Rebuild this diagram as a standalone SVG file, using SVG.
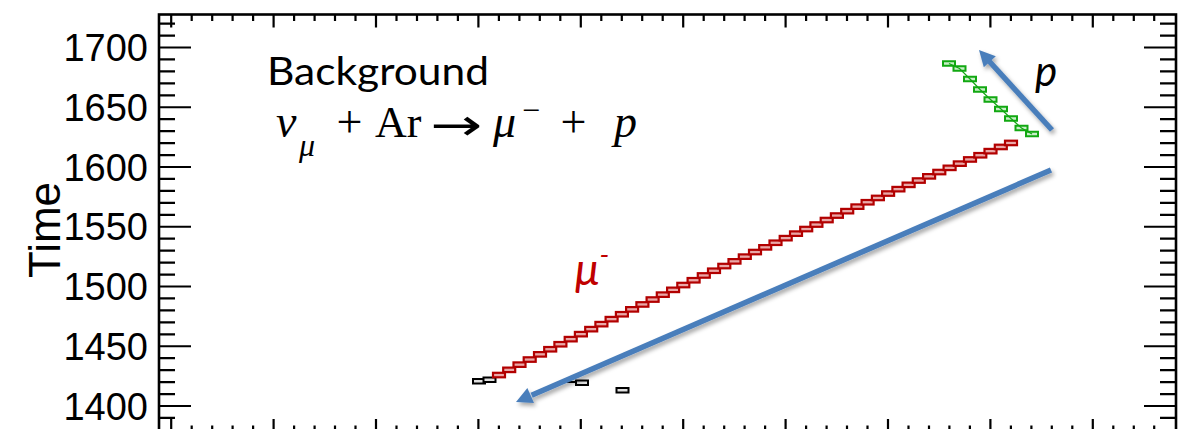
<svg xmlns="http://www.w3.org/2000/svg" xmlns:xlink="http://www.w3.org/1999/xlink" width="1184" height="429" viewBox="0 0 1184 429">
<style>
.axis{fill:none;stroke:#000;stroke-width:2.2}
.frame{fill:none;stroke:#000;stroke-width:2.6}
.tl{font-family:"Liberation Sans",Arial,sans-serif;font-size:38px;fill:#000;text-anchor:end}
.ylab{font-family:"Liberation Sans",Arial,sans-serif;font-size:44px;fill:#000;text-anchor:middle}
.red{fill:#eaa8a8;stroke:#b20000;stroke-width:2.2}
.grn{fill:#c8efc8;stroke:#12a812;stroke-width:2}
.blk{fill:#e0e0e0;stroke:#000;stroke-width:2}
.arr{stroke:#4a7ebb;stroke-width:5.5;fill:none}
.arrh{fill:#4a7ebb}
.cal{font-family:Lato,"Open Sans","DejaVu Sans",sans-serif}
.math{font-family:"Liberation Serif","DejaVu Serif",serif;font-size:46px;fill:#000}
</style>
<defs>
<rect id="hit" x="0" y="0" width="12" height="4.5"/>
<filter id="sh" x="-10%" y="-10%" width="130%" height="130%">
<feDropShadow dx="2" dy="3" stdDeviation="2" flood-color="#000" flood-opacity="0.35"/>
</filter>
<path id="tickTop" d="M171.2 14.5v13M273.6 14.5v13M376 14.5v13M478.4 14.5v13M580.8 14.5v13M683.2 14.5v13M785.6 14.5v13M888 14.5v13M990.4 14.5v13M1092.8 14.5v13M191.7 14.5v6.5M212.2 14.5v6.5M232.6 14.5v6.5M253.1 14.5v6.5M294.1 14.5v6.5M314.6 14.5v6.5M335 14.5v6.5M355.5 14.5v6.5M396.5 14.5v6.5M417 14.5v6.5M437.4 14.5v6.5M457.9 14.5v6.5M498.9 14.5v6.5M519.4 14.5v6.5M539.8 14.5v6.5M560.3 14.5v6.5M601.3 14.5v6.5M621.8 14.5v6.5M642.2 14.5v6.5M662.7 14.5v6.5M703.7 14.5v6.5M724.2 14.5v6.5M744.6 14.5v6.5M765.1 14.5v6.5M806.1 14.5v6.5M826.6 14.5v6.5M847 14.5v6.5M867.5 14.5v6.5M908.5 14.5v6.5M929 14.5v6.5M949.4 14.5v6.5M969.9 14.5v6.5M1010.9 14.5v6.5M1031.4 14.5v6.5M1051.8 14.5v6.5M1072.3 14.5v6.5M1113.3 14.5v6.5M1133.8 14.5v6.5M1154.2 14.5v6.5"/>
<path id="tickLeft" d="M159 47.5h32M159 107.25h32M159 167h32M159 226.75h32M159 286.5h32M159 346.25h32M159 406h32M159 23.6h16M159 35.55h16M159 59.45h16M159 71.4h16M159 83.35h16M159 95.3h16M159 119.2h16M159 131.15h16M159 143.1h16M159 155.05h16M159 178.95h16M159 190.9h16M159 202.85h16M159 214.8h16M159 238.7h16M159 250.65h16M159 262.6h16M159 274.55h16M159 298.45h16M159 310.4h16M159 322.35h16M159 334.3h16M159 358.2h16M159 370.15h16M159 382.1h16M159 394.05h16M159 417.95h16"/>
</defs>

<g id="axes">
<rect class="frame" x="159" y="14.5" width="1017" height="417.5"/>
<use xlink:href="#tickTop" class="axis"/>
<use xlink:href="#tickTop" class="axis" transform="translate(0,446.5) scale(1,-1)"/>
<use xlink:href="#tickLeft" class="axis"/>
<use xlink:href="#tickLeft" class="axis" transform="translate(1335,0) scale(-1,1)"/>
<text class="tl" x="148" y="61.1">1700</text>
<text class="tl" x="148" y="120.85">1650</text>
<text class="tl" x="148" y="180.6">1600</text>
<text class="tl" x="148" y="240.35">1550</text>
<text class="tl" x="148" y="300.1">1500</text>
<text class="tl" x="148" y="359.85">1450</text>
<text class="tl" x="148" y="419.6">1400</text>
<text class="ylab" transform="translate(60,230) rotate(-90)">Time</text>
</g>

<g id="title">
<text class="cal" x="267" y="85" font-size="38" textLength="222" lengthAdjust="spacingAndGlyphs" fill="#000">Background</text>
</g>

<g id="formula">
<text class="math"><tspan x="276" y="137" font-style="italic">ν</tspan><tspan x="299" y="156" font-size="32" font-style="italic">μ</tspan><tspan x="336.5" y="137">+</tspan><tspan x="375" y="137" font-size="44">Ar</tspan><tspan x="430" y="140" font-family="'DejaVu Sans',sans-serif" font-size="44" textLength="52" lengthAdjust="spacingAndGlyphs">→</tspan><tspan x="493" y="137" font-style="italic">μ</tspan><tspan x="522" y="121" font-size="32">−</tspan><tspan x="560.5" y="137">+</tspan><tspan x="614" y="137" font-style="italic">p</tspan></text>
</g>

<g id="black-hits" class="blk">
<path d="M567 382h9" fill="none" stroke="#000" stroke-width="2"/>
<use xlink:href="#hit" x="473" y="379"/>
<use xlink:href="#hit" x="483.5" y="377.5"/>
<use xlink:href="#hit" x="576" y="380.5"/>
<use xlink:href="#hit" x="616.5" y="388"/>
</g>

<g id="muon-track" class="red">
<use xlink:href="#hit" x="493" y="372.8"/><use xlink:href="#hit" x="503.2" y="367.6"/><use xlink:href="#hit" x="513.5" y="362.4"/><use xlink:href="#hit" x="523.7" y="357.3"/><use xlink:href="#hit" x="534" y="352.1"/><use xlink:href="#hit" x="544.2" y="347"/><use xlink:href="#hit" x="554.4" y="342"/><use xlink:href="#hit" x="564.7" y="336.9"/><use xlink:href="#hit" x="574.9" y="331.9"/><use xlink:href="#hit" x="585.2" y="326.9"/><use xlink:href="#hit" x="595.4" y="321.9"/><use xlink:href="#hit" x="605.6" y="316.9"/><use xlink:href="#hit" x="615.9" y="312"/><use xlink:href="#hit" x="626.1" y="307.1"/><use xlink:href="#hit" x="636.4" y="302.2"/><use xlink:href="#hit" x="646.6" y="297.3"/><use xlink:href="#hit" x="656.8" y="292.4"/><use xlink:href="#hit" x="667.1" y="287.6"/><use xlink:href="#hit" x="677.3" y="282.8"/><use xlink:href="#hit" x="687.6" y="278"/><use xlink:href="#hit" x="697.8" y="273.2"/><use xlink:href="#hit" x="708" y="268.5"/><use xlink:href="#hit" x="718.3" y="263.8"/><use xlink:href="#hit" x="728.5" y="259.1"/><use xlink:href="#hit" x="738.8" y="254.4"/><use xlink:href="#hit" x="749" y="249.8"/><use xlink:href="#hit" x="759.2" y="245.1"/><use xlink:href="#hit" x="769.5" y="240.5"/><use xlink:href="#hit" x="779.7" y="235.9"/><use xlink:href="#hit" x="790" y="231.4"/><use xlink:href="#hit" x="800.2" y="226.8"/><use xlink:href="#hit" x="810.4" y="222.3"/><use xlink:href="#hit" x="820.7" y="217.8"/><use xlink:href="#hit" x="830.9" y="213.3"/><use xlink:href="#hit" x="841.2" y="208.9"/><use xlink:href="#hit" x="851.4" y="204.4"/><use xlink:href="#hit" x="861.6" y="200"/><use xlink:href="#hit" x="871.9" y="195.7"/><use xlink:href="#hit" x="882.1" y="191.3"/><use xlink:href="#hit" x="892.4" y="186.9"/><use xlink:href="#hit" x="902.6" y="182.6"/><use xlink:href="#hit" x="912.8" y="178.3"/><use xlink:href="#hit" x="923.1" y="174.1"/><use xlink:href="#hit" x="933.3" y="169.8"/><use xlink:href="#hit" x="943.6" y="165.6"/><use xlink:href="#hit" x="953.8" y="161.4"/><use xlink:href="#hit" x="964" y="157.2"/><use xlink:href="#hit" x="974.3" y="153"/><use xlink:href="#hit" x="984.5" y="148.9"/><use xlink:href="#hit" x="994.8" y="144.7"/><use xlink:href="#hit" x="1005" y="140.7"/>
</g>

<g id="proton-track" class="grn">
<use xlink:href="#hit" x="943" y="61.25"/><use xlink:href="#hit" x="953.5" y="66.25"/><use xlink:href="#hit" x="964" y="76.75"/><use xlink:href="#hit" x="974" y="87.25"/><use xlink:href="#hit" x="984.5" y="97.25"/><use xlink:href="#hit" x="995" y="106.75"/><use xlink:href="#hit" x="1005" y="116.25"/><use xlink:href="#hit" x="1015.5" y="125.75"/><use xlink:href="#hit" x="1026" y="131.75"/>
<polyline points="949,63.5 959.5,68.5 970,79 980,89.5 990.5,99.5 1001,109 1011,118.5 1021.5,128 1032,134" fill="none" stroke="#12a812" stroke-width="1.2"/>
</g>

<g id="connectors" filter="url(#sh)">
<path class="arr" d="M1051 170L531.6 395.2"/>
<polygon class="arrh" points="516,402 527.4,388 534,403"/>
<path class="arr" d="M1052 130L989 61"/>
<polygon class="arrh" points="979,50 995.8,56.3 983.8,67.3"/>
</g>

<g id="labels">
<text class="cal" x="575" y="285" font-size="44" font-style="italic" fill="#c00000">μ<tspan font-size="28" dy="-20">-</tspan></text>
<text class="cal" x="1035" y="86" font-size="42" font-style="italic" fill="#000">p</text>
</g>
</svg>
